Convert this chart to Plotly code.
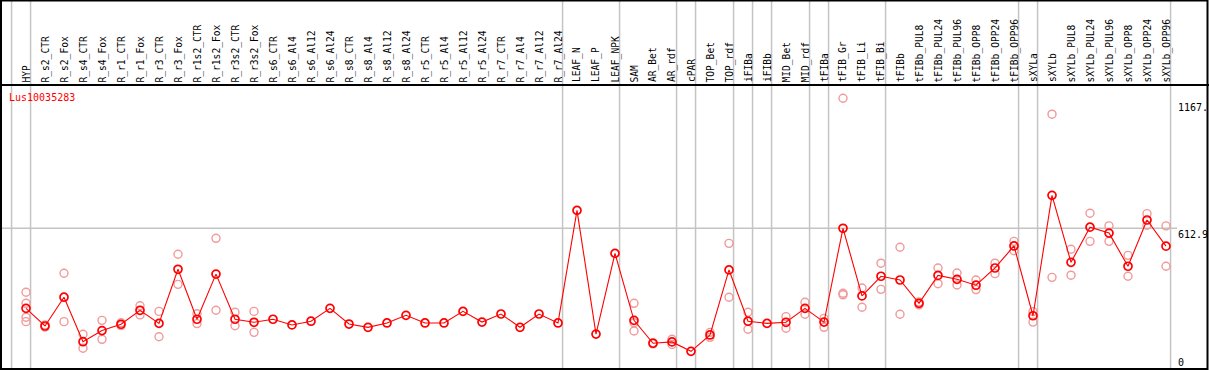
import plotly.graph_objects as go

N = None

categories = [
    "HYP", "R_s2_CTR", "R_s2_Fox", "R_s4_CTR", "R_s4_Fox", "R_r1_CTR", "R_r1_Fox",
    "R_r3_CTR", "R_r3_Fox", "R_r1s2_CTR", "R_r1s2_Fox", "R_r3s2_CTR", "R_r3s2_Fox",
    "R_s6_CTR", "R_s6_Al4", "R_s6_Al12", "R_s6_Al24", "R_s8_CTR", "R_s8_Al4",
    "R_s8_Al12", "R_s8_Al24", "R_r5_CTR", "R_r5_Al4", "R_r5_Al12", "R_r5_Al24",
    "R_r7_CTR", "R_r7_Al4", "R_r7_Al12", "R_r7_Al24", "LEAF_N", "LEAF_P", "LEAF_NPK",
    "SAM", "AR_Bet", "AR_rdf", "cPAR", "TOP_Bet", "TOP_rdf", "iFIBa", "iFIBb",
    "MID_Bet", "MID_rdf", "tFIBa", "tFIB_Gr", "tFIB_Li", "tFIB_Bi", "tFIBb",
    "tFIBb_PUL8", "tFIBb_PUL24", "tFIBb_PUL96", "tFIBb_OPP8", "tFIBb_OPP24",
    "tFIBb_OPP96", "sXYLa", "sXYLb", "sXYLb_PUL8", "sXYLb_PUL24", "sXYLb_PUL96",
    "sXYLb_OPP8", "sXYLb_OPP24", "sXYLb_OPP96",
]

# mean expression (red line)
expression = [
    246, 165, 297, 93, 144, 173, 237, 177, 425, 196, 403, 196, 182,
    196, 170, 187, 246, 174, 159, 179, 214, 179, 179, 232, 183, 220, 159, 220, 179,
    695, 128, 498,
    191, 86, 92, 49, 124, 422, 187, 177, 182, 246, 183,
    613, 303, 393, 376, 269, 397, 379, 352, 431, 532,
    212, 764, 457, 618, 591, 439, 651, 531,
]

# individual replicates (pink circles)
rep_1 = [
    320, 170, 407, 127, 191, 180, 258, 232, 494, 221, 567, 228, 232,
    N, N, N, N, N, N, N, N, N, N, N, N, N, N, N, N,
    N, N, N,
    269, 88, 104, N, 136, 544, 228, N, 208, 274, 200,
    1209, 339, 453, 526, 275, 431, 408, 376, 453, 553,
    231, 1136, 517, 682, 624, 489, 680, 624,
]
rep_2 = [
    269, 160, 185, 63, 104, 167, 216, 116, 356, 176, 237, 166, 136,
    N, N, N, N, N, N, N, N, N, N, N, N, N, N, N, N,
    N, N, N,
    180, 83, 80, N, 113, 297, 150, N, 155, 219, 159,
    315, 251, 333, 219, 262, 359, 353, 332, 405, 510,
    183, 388, 398, 553, 553, 393, 627, 439,
]
rep_3 = [
    205, N, N, N, N, N, N, N, N, N, N, N, N,
    N, N, N, N, N, N, N, N, N, N, N, N, N, N, N, N,
    N, N, N,
    142, N, N, N, N, N, N, N, N, N, N,
    308, N, N, N, N, N, N, N, N, N,
    N, N, N, N, N, N, N, N,
]
rep_4 = [
    185, N, N, N, N, N, N, N, N, N, N, N, N,
    N, N, N, N, N, N, N, N, N, N, N, N, N, N, N, N,
    N, N, N,
    N, N, N, N, N, N, N, N, N, N, N,
    N, N, N, N, N, N, N, N, N, N,
    N, N, N, N, N, N, N, N,
]

# last category of each group (separator drawn just after it); -1 = before first
group_ends = [-1, 0, 28, 31, 34, 35, 37, 38, 39, 41, 42, 45, 52, 53, 60]

gene = "Lus10035283"
tick_values = [1167, 612.9, 0]
tick_labels = ["1167.", "612.9", "0"]

W, H = 1209, 370
PX_X0, PX_STEP = 26.0, 19.0          # pixel of first category, pixel per category
PX_Y0, PX_PER_UNIT = 362.0, 0.21814  # pixel of value 0, pixels per unit
HEADER = 85.0

x_range = [-PX_X0 / PX_STEP, (W - PX_X0) / PX_STEP]
y_range = [-(H - PX_Y0) / PX_PER_UNIT, PX_Y0 / PX_PER_UNIT]

def py(px):
    return 1 - px / H

def pxx(px):
    return px / W

MONO = "DejaVu Sans Mono"
GRID = "#c4c4c4"

fig = go.Figure()

for reps in (rep_1, rep_2, rep_3, rep_4):
    fig.add_trace(go.Scatter(
        x=categories, y=reps, mode="markers",
        marker=dict(symbol="circle-open", size=8, color="#f09a9a",
                    line=dict(width=1.4, color="#f09a9a")),
        hoverinfo="skip", showlegend=False, cliponaxis=False,
    ))

fig.add_trace(go.Scatter(
    x=categories, y=expression, mode="lines+markers",
    line=dict(color="#ff0000", width=1.1),
    marker=dict(symbol="circle-open", size=8, color="#ff0000",
                line=dict(width=1.7, color="#ff0000")),
    showlegend=False, cliponaxis=False,
))

shapes = []
# vertical group separators
for g in group_ends:
    xs = g + 0.24
    shapes.append(dict(type="line", xref="x", yref="paper", x0=xs, x1=xs,
                       y0=0, y1=1, line=dict(color=GRID, width=1.5), layer="below"))
# horizontal mid gridline
shapes.append(dict(type="line", xref="paper", yref="y", x0=0, x1=pxx(1177),
                   y0=tick_values[1], y1=tick_values[1],
                   line=dict(color=GRID, width=1.5), layer="below"))
# header separator
shapes.append(dict(type="line", xref="paper", yref="paper", x0=0, x1=1,
                   y0=py(HEADER), y1=py(HEADER), line=dict(color="black", width=2)))
# outer border
shapes.append(dict(type="rect", xref="paper", yref="paper",
                   x0=pxx(1), x1=pxx(1207.5), y0=py(369), y1=py(0.5),
                   line=dict(color="black", width=2)))

annotations = []
for c in categories:
    annotations.append(dict(
        x=c, xref="x", y=py(HEADER - 1.5), yref="paper",
        text=c, textangle=-90, showarrow=False,
        xanchor="center", yanchor="bottom", xshift=0,
        font=dict(family=MONO, size=9.6, color="black"),
        borderpad=0,
    ))

annotations.append(dict(
    x=pxx(8), xref="paper", y=py(97.5), yref="paper", text=gene,
    showarrow=False, xanchor="left", yanchor="middle",
    font=dict(family=MONO, size=10, color="#ff0000"), borderpad=0,
))

for v, lab in zip(tick_values, tick_labels):
    annotations.append(dict(
        x=pxx(1177), xref="paper", y=v, yref="y", text=lab,
        showarrow=False, xanchor="left",
        yanchor="top" if lab == "612.9" else "middle",
        font=dict(family=MONO, size=10, color="black"), borderpad=0,
    ))

fig.update_layout(
    width=W, height=H,
    margin=dict(l=0, r=0, t=0, b=0),
    paper_bgcolor="white", plot_bgcolor="white",
    xaxis=dict(range=x_range, visible=False, type="category",
               categoryorder="array", categoryarray=categories, fixedrange=True),
    yaxis=dict(range=y_range, visible=False, fixedrange=True),
    shapes=shapes, annotations=annotations,
    showlegend=False,
)

fig.write_html(
    "out.html",
    config={"displayModeBar": False},
    post_script="document.body.style.margin='0';document.body.style.overflow='hidden';",
)
